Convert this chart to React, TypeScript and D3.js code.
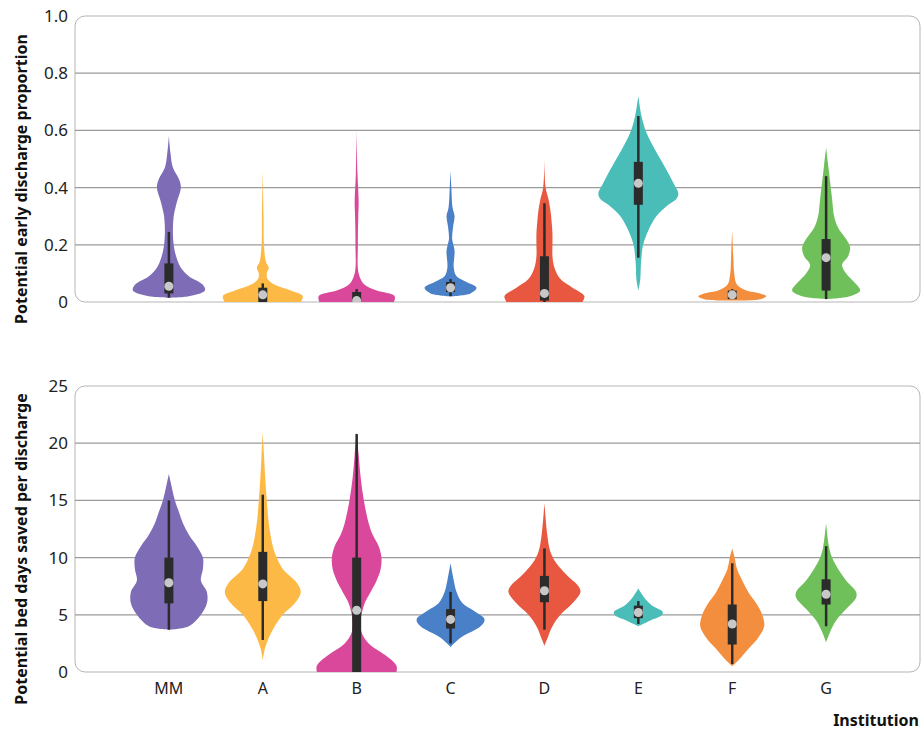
import React from 'react';
import * as d3 from 'd3';

const institutions = ['MM', 'A', 'B', 'C', 'D', 'E', 'F', 'G'];
const colors = ['#7f6cb6', '#fdb946', '#d9489b', '#4a80c8', '#e8573f', '#4bbdb8', '#f48e3f', '#6fbf5a'];

// density profiles: [value, relative half width]
const earlyDensity: [number, number][][] = [
  [[0.015, 0], [0.02, 0.5], [0.04, 0.9], [0.06, 0.85], [0.09, 0.5], [0.12, 0.3], [0.16, 0.18], [0.2, 0.12], [0.25, 0.1], [0.3, 0.12], [0.35, 0.2], [0.4, 0.3], [0.43, 0.25], [0.47, 0.1], [0.52, 0.04], [0.58, 0]],
  [[-0.01, 0.9], [0.02, 1], [0.04, 0.7], [0.06, 0.3], [0.08, 0.12], [0.1, 0.1], [0.12, 0.15], [0.14, 0.08], [0.2, 0.03], [0.3, 0.02], [0.46, 0]],
  [[-0.01, 0.9], [0.02, 0.95], [0.04, 0.5], [0.06, 0.2], [0.1, 0.05], [0.2, 0.03], [0.3, 0.04], [0.35, 0.05], [0.45, 0.02], [0.6, 0]],
  [[0.02, 0], [0.03, 0.5], [0.05, 0.65], [0.07, 0.4], [0.09, 0.15], [0.12, 0.08], [0.18, 0.1], [0.22, 0.04], [0.26, 0.06], [0.3, 0.1], [0.33, 0.05], [0.4, 0.02], [0.46, 0]],
  [[-0.01, 0.9], [0.02, 1], [0.05, 0.7], [0.08, 0.4], [0.12, 0.25], [0.16, 0.2], [0.2, 0.2], [0.24, 0.2], [0.28, 0.18], [0.32, 0.15], [0.36, 0.1], [0.4, 0.03], [0.5, 0]],
  [[0.04, 0], [0.08, 0.05], [0.12, 0.06], [0.16, 0.08], [0.2, 0.12], [0.25, 0.25], [0.3, 0.45], [0.34, 0.75], [0.36, 0.95], [0.38, 1], [0.41, 0.9], [0.45, 0.75], [0.5, 0.55], [0.55, 0.35], [0.6, 0.18], [0.65, 0.08], [0.72, 0]],
  [[0.005, 0], [0.01, 0.7], [0.02, 0.85], [0.03, 0.7], [0.04, 0.35], [0.06, 0.12], [0.1, 0.05], [0.15, 0.03], [0.25, 0]],
  [[0.01, 0], [0.02, 0.6], [0.04, 0.85], [0.07, 0.7], [0.1, 0.5], [0.13, 0.4], [0.16, 0.55], [0.19, 0.6], [0.22, 0.5], [0.26, 0.3], [0.3, 0.2], [0.36, 0.15], [0.42, 0.1], [0.48, 0.05], [0.54, 0]],
];
// [whiskerLow, q1, median, q3, whiskerHigh]
const earlyBox = [
  [0.015, 0.03, 0.055, 0.135, 0.245],
  [0, 0, 0.025, 0.05, 0.065],
  [0, 0, 0.005, 0.035, 0.045],
  [0.02, 0.035, 0.05, 0.07, 0.08],
  [0, 0.005, 0.03, 0.16, 0.345],
  [0.155, 0.34, 0.415, 0.49, 0.65],
  [0.01, 0.01, 0.025, 0.04, 0.045],
  [0.01, 0.04, 0.155, 0.22, 0.44],
];

const bedDensity: [number, number][][] = [
  [[3.7, 0], [4, 0.5], [5, 0.8], [6, 0.95], [7, 0.95], [8, 0.8], [9, 0.85], [10, 0.85], [11, 0.7], [12, 0.5], [13, 0.35], [14, 0.25], [15, 0.15], [16.5, 0.05], [17.3, 0]],
  [[1, 0], [2, 0.05], [3, 0.15], [4, 0.3], [5, 0.5], [6, 0.8], [7, 0.95], [7.8, 0.85], [9, 0.5], [10, 0.35], [11, 0.25], [13, 0.15], [15, 0.1], [17, 0.06], [19, 0.03], [21, 0]],
  [[-0.5, 0.95], [0.5, 1], [1.5, 0.7], [2.5, 0.3], [3.5, 0.12], [4.5, 0.1], [6, 0.2], [7, 0.35], [8, 0.5], [9, 0.6], [10, 0.62], [11, 0.55], [12, 0.4], [13, 0.3], [15, 0.18], [17, 0.1], [19, 0.05], [21, 0]],
  [[2.2, 0], [3, 0.25], [4, 0.75], [4.6, 0.85], [5.3, 0.6], [6, 0.3], [7, 0.15], [8, 0.08], [9.5, 0]],
  [[2.3, 0], [3, 0.08], [4, 0.2], [5, 0.4], [6, 0.7], [7, 0.9], [7.5, 0.85], [8.5, 0.55], [9.5, 0.3], [10.5, 0.15], [12, 0.07], [14.8, 0]],
  [[4, 0], [4.5, 0.3], [5, 0.6], [5.3, 0.6], [5.8, 0.35], [6.5, 0.15], [7.3, 0]],
  [[0.5, 0], [1, 0.15], [2, 0.4], [3, 0.65], [4, 0.8], [5, 0.75], [6, 0.6], [7, 0.4], [8, 0.25], [9, 0.12], [10, 0.06], [10.8, 0]],
  [[2.6, 0], [3.5, 0.1], [4.5, 0.25], [5.5, 0.5], [6.5, 0.75], [7, 0.75], [8, 0.5], [9, 0.3], [10, 0.15], [11, 0.07], [13, 0]],
];
const bedBox = [
  [3.7, 6, 7.8, 10, 15],
  [2.8, 6.2, 7.7, 10.5, 15.5],
  [0, 0, 5.4, 10, 20.8],
  [2.5, 3.8, 4.6, 5.5, 7],
  [3.7, 6.1, 7.1, 8.4, 10.8],
  [4.2, 4.7, 5.2, 5.8, 6.2],
  [0.7, 2.4, 4.2, 5.9, 9.5],
  [4, 5.9, 6.8, 8.1, 11],
];

const earlyTicks = [0, 0.2, 0.4, 0.6, 0.8, 1.0];
const bedTicks = [0, 5, 10, 15, 20, 25];

const W = 924, H = 744;
const left = 75, right = 920;
const font = '"Noto Sans", "Open Sans", sans-serif';
const x = d3.scalePoint<string>().domain(institutions).range([left, right]).padding(1);

function Panel({ id, top, bottom, domain, ticks, fmt, density, box, title }: any) {
  const y = d3.scaleLinear().domain(domain).range([bottom, top]);
  const half = 40;
  return (
    <g>
      <defs>
        <clipPath id={id}>
          <rect x={left} y={top} width={right - left} height={bottom - top} />
        </clipPath>
      </defs>
      <rect x={left} y={top} width={right - left} height={bottom - top} rx={10} fill="#fff" stroke="#b5b5b5" />
      {ticks.map((t: number) => (
        <g key={t}>
          {t > domain[0] && t < domain[1] && (
            <line x1={left} x2={right} y1={y(t)} y2={y(t)} stroke="#9a9a9a" strokeWidth={1.2} />
          )}
          <text x={68} y={y(t)} dy="0.35em" textAnchor="end" fontSize={17} fontFamily={font} fill="#222">{fmt(t)}</text>
        </g>
      ))}
      <g clipPath={`url(#${id})`}>
        {institutions.map((inst, i) => {
          const cx = x(inst)!;
          const area = d3.area<[number, number]>()
            .y(d => y(d[0]))
            .x0(d => cx - d[1] * half)
            .x1(d => cx + d[1] * half)
            .curve(d3.curveCatmullRom);
          const [wl, q1, med, q3, wh] = box[i];
          return (
            <g key={inst}>
              <path d={area(density[i])!} fill={colors[i]} />
              <line x1={cx} x2={cx} y1={y(wl)} y2={y(wh)} stroke="#2b2b2b" strokeWidth={2.5} />
              <rect x={cx - 4.5} y={y(q3)} width={9} height={Math.max(1, y(q1) - y(q3))} fill="#2b2b2b" />
              <circle cx={cx} cy={y(med)} r={4.5} fill="#c8c8c8" />
            </g>
          );
        })}
      </g>
      <text transform={`translate(27,${(top + bottom) / 2 + 20}) rotate(-90)`} textAnchor="middle" fontSize={16} fontWeight="bold" fontFamily={font} fill="#111">{title}</text>
    </g>
  );
}

export default function App() {
  return (
    <div style={{ position: 'absolute', left: 0, top: 0 }}>
      <svg width={W} height={H} style={{ display: 'block' }}>
        <rect width={W} height={H} fill="#fff" />
        <Panel id="c1" top={16} bottom={302} domain={[0, 1]} ticks={earlyTicks}
          fmt={(t: number) => (t === 0 ? '0' : d3.format('.1f')(t))}
          density={earlyDensity} box={earlyBox} title="Potential early discharge proportion" />
        <Panel id="c2" top={386} bottom={672} domain={[0, 25]} ticks={bedTicks}
          fmt={(t: number) => String(t)}
          density={bedDensity} box={bedBox} title="Potential bed days saved per discharge" />
        {institutions.map(inst => (
          <text key={inst} x={x(inst)} y={694} textAnchor="middle" fontSize={16} fontFamily={font} fill="#222">{inst}</text>
        ))}
        <text x={919} y={726} textAnchor="end" fontSize={16} fontWeight="bold" fontFamily={font} fill="#111">Institution</text>
      </svg>
    </div>
  );
}
